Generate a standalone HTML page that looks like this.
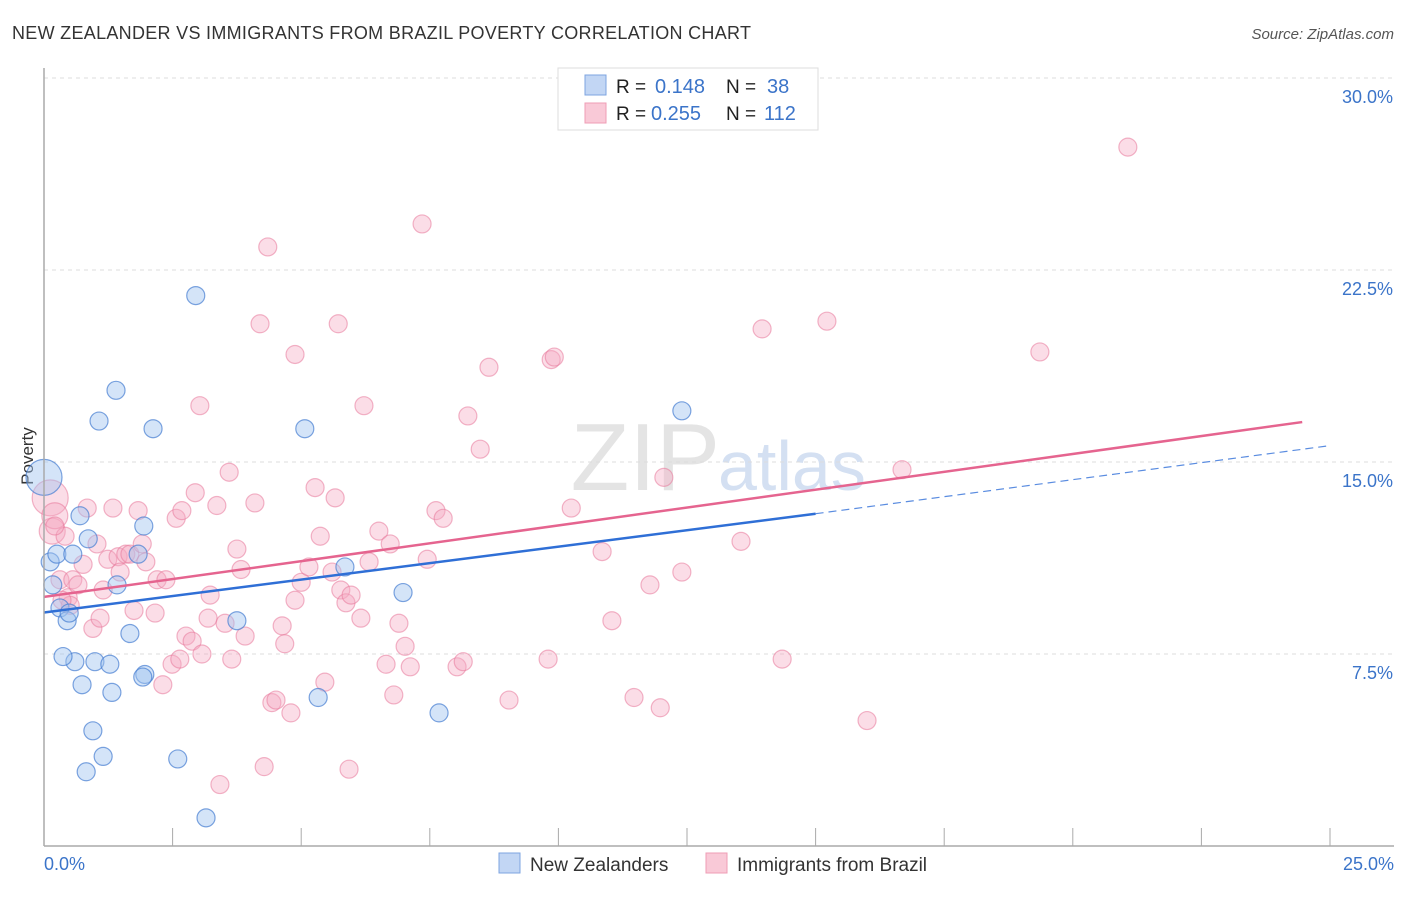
<!DOCTYPE html>
<html><head><meta charset="utf-8"><style>
body{margin:0;background:#fff;font-family:"Liberation Sans",sans-serif;}
svg text{font-family:"Liberation Sans",sans-serif;}
</style></head><body>
<svg id="chart" width="1406" height="892" viewBox="0 0 1406 892">
<text x="12" y="39" font-size="18" fill="#333" textLength="739">NEW ZEALANDER VS IMMIGRANTS FROM BRAZIL POVERTY CORRELATION CHART</text>
<text x="1394" y="39" font-size="15" fill="#555" font-style="italic" text-anchor="end">Source: ZipAtlas.com</text>
<text x="33" y="456" font-size="17" fill="#333" transform="rotate(-90 33 456)" text-anchor="middle">Poverty</text>
<text x="720" y="490" font-size="96" fill="#e4e4e4" text-anchor="end" font-family="Liberation Serif">ZIP</text>
<text x="718" y="490" font-size="70" fill="#d4e0f2">atlas</text>
<g id="grid"></g><g id="ticks"></g><g id="pts"></g><g id="lines"></g>
<line x1="44" y1="68" x2="44" y2="846" stroke="#aaa" stroke-width="1.5"/>
<line x1="44" y1="846" x2="1394" y2="846" stroke="#aaa" stroke-width="1.5"/>
<text x="44" y="870" font-size="18" fill="#3b74c9">0.0%</text>
<text x="1394" y="870" font-size="18" fill="#3b74c9" text-anchor="end">25.0%</text>
<g>
<rect x="558" y="68" width="260" height="62" fill="#fff" stroke="#ddd"/>
<rect x="585" y="75" width="21" height="20" fill="#c2d6f4" stroke="#7ea4e0"/>
<rect x="585" y="103" width="21" height="20" fill="#f9c9d7" stroke="#ef9db5"/>
<text x="616" y="93" font-size="19" fill="#222">R = </text><text x="655" y="93" font-size="20" fill="#3b74c9">0.148</text>
<text x="726" y="93" font-size="19" fill="#222">N = </text><text x="767" y="93" font-size="20" fill="#3b74c9">38</text>
<text x="616" y="120" font-size="19" fill="#222">R = </text><text x="651" y="120" font-size="20" fill="#3b74c9">0.255</text>
<text x="726" y="120" font-size="19" fill="#222">N = </text><text x="764" y="120" font-size="20" fill="#3b74c9">112</text>
</g>
<g>
<rect x="499" y="853" width="21" height="20" fill="#c2d6f4" stroke="#7ea4e0"/>
<text x="530" y="871" font-size="19" fill="#333">New Zealanders</text>
<rect x="706" y="853" width="21" height="20" fill="#f9c9d7" stroke="#ef9db5"/>
<text x="737" y="871" font-size="19" fill="#333">Immigrants from Brazil</text>
</g>
</svg>
<script>
const yTicks=[7.5,15,22.5,30];
const yTickLabels=["7.5%","15.0%","22.5%","30.0%"];
const xTicks=[0,2.5,5,7.5,10,12.5,15,17.5,20,22.5,25];
const blueX=[0,0.12,0.17,0.25,0.31,0.45,0.49,0.56,0.6,0.37,0.7,0.74,0.82,0.86,0.95,0.99,1.07,1.15,1.28,1.32,1.4,1.42,1.67,1.83,1.94,1.96,1.92,2.12,2.6,2.95,3.15,3.75,5.07,5.33,5.85,6.98,7.68,12.4];
const blueY=[14.4,11.1,10.2,11.4,9.3,8.8,9.1,11.4,7.2,7.4,12.9,6.3,2.9,12.0,4.5,7.2,16.6,3.5,7.1,6.0,17.8,10.2,8.3,11.4,12.5,6.7,6.6,16.3,3.4,21.5,1.1,8.8,16.3,5.8,10.9,9.9,5.2,17.0];
const blueR=[18,9,9,9,9,9,9,9,9,9,9,9,9,9,9,9,9,9,9,9,9,9,9,9,9,9,9,9,9,9,9,9,9,9,9,9,9,9];
const pinkX=[0.12,0.16,0.21,0.31,0.41,0.47,0.51,0.56,0.66,0.76,0.84,0.95,1.03,1.09,1.15,1.24,1.34,1.44,1.48,1.59,1.67,1.75,1.83,1.91,1.98,2.16,2.2,2.31,2.37,2.49,2.57,2.64,2.68,2.76,2.88,2.94,3.03,3.07,3.19,3.23,3.36,3.42,3.52,3.6,3.65,3.75,3.83,3.91,4.1,4.2,4.28,4.35,4.43,4.51,4.63,4.68,4.8,4.88,4.88,5.0,5.15,5.27,5.37,5.46,5.6,5.66,5.72,5.77,5.87,5.93,5.97,6.16,6.22,6.32,6.51,6.65,6.73,6.8,6.9,7.02,7.12,7.35,7.45,7.62,7.76,8.03,8.15,8.24,8.48,8.65,9.04,9.8,9.86,9.92,10.25,10.85,11.04,11.47,11.78,11.98,12.05,12.4,13.55,13.96,14.35,15.22,16.0,16.68,19.36,21.07,0.21,0.35];
const pinkY=[13.6,12.3,12.9,10.4,12.1,9.7,9.4,10.4,10.2,11.0,13.2,8.5,11.8,8.9,10.0,11.2,13.2,11.3,10.7,11.4,11.4,9.2,13.1,11.8,11.1,9.1,10.4,6.3,10.4,7.1,12.8,7.3,13.1,8.2,8.0,13.8,17.2,7.5,8.9,9.8,13.3,2.4,8.7,14.6,7.3,11.6,10.8,8.2,13.4,20.4,3.1,23.4,5.6,5.7,8.6,7.9,5.2,19.2,9.6,10.3,10.9,14.0,12.1,6.4,10.7,13.6,20.4,10.0,9.5,3.0,9.8,8.9,17.2,11.1,12.3,7.1,11.8,5.9,8.7,7.8,7.0,24.3,11.2,13.1,12.8,7.0,7.2,16.8,15.5,18.7,5.7,7.3,19.0,19.1,13.2,11.5,8.8,5.8,10.2,5.4,14.4,10.7,11.9,20.2,7.3,20.5,4.9,14.7,19.3,27.3,12.5,9.6];
const pinkR=[18,13,13].concat(Array(109).fill(9));
const blueTrend=[9.12,12.98,15.64]; // at x=0, 15, 25
const pinkTrend=[9.73,16.56]; // at x=0, 24.46
const X=v=>44+v/25*1286, Y=v=>846-v/30*768;
const NS="http://www.w3.org/2000/svg";
function mk(t,a,p){const e=document.createElementNS(NS,t);for(const k in a)e.setAttribute(k,a[k]);p.appendChild(e);return e;}
const grid=document.getElementById('grid'),ticks=document.getElementById('ticks'),pts=document.getElementById('pts'),lines=document.getElementById('lines');
yTicks.forEach((t,i)=>{
 const l=mk('line',{x1:44,x2:1394,y1:Y(t),y2:Y(t),stroke:'#ddd','stroke-dasharray':'4,4'},grid);
 
 
 const tx=mk('text',{x:1393,y:Y(t)+25,'font-size':18,fill:'#3b74c9','text-anchor':'end'},ticks);
 tx.textContent=yTickLabels[i];
 
 
});
xTicks.forEach(t=>{
 const l=mk('line',{x1:X(t),x2:X(t),y1:828,y2:846,stroke:'#aaa'},ticks);
 
 
});
pinkX.forEach((v,i)=>{
 const c=mk('circle',{cx:X(v),cy:Y(pinkY[i]),r:pinkR[i],fill:'rgba(246,170,195,0.4)',stroke:'rgba(232,120,155,0.55)','stroke-width':1.2},pts);
 
 
});
blueX.forEach((v,i)=>{
 const c=mk('circle',{cx:X(v),cy:Y(blueY[i]),r:blueR[i],fill:'rgba(160,195,240,0.45)',stroke:'rgba(70,125,210,0.7)','stroke-width':1.2},pts);
 
 
});
let l=mk('line',{x1:X(0),y1:Y(blueTrend[0]),x2:X(15),y2:Y(blueTrend[1]),stroke:'#2f6fd6','stroke-width':2.5},lines);


l=mk('line',{x1:X(15),y1:Y(blueTrend[1]),x2:X(25),y2:Y(blueTrend[2]),stroke:'#5a8ce0','stroke-width':1.2,'stroke-dasharray':'8,5'},lines);


l=mk('line',{x1:X(0),y1:Y(pinkTrend[0]),x2:X(24.46),y2:Y(pinkTrend[1]),stroke:'#e5648f','stroke-width':2.5},lines);


</script>
</body></html>
